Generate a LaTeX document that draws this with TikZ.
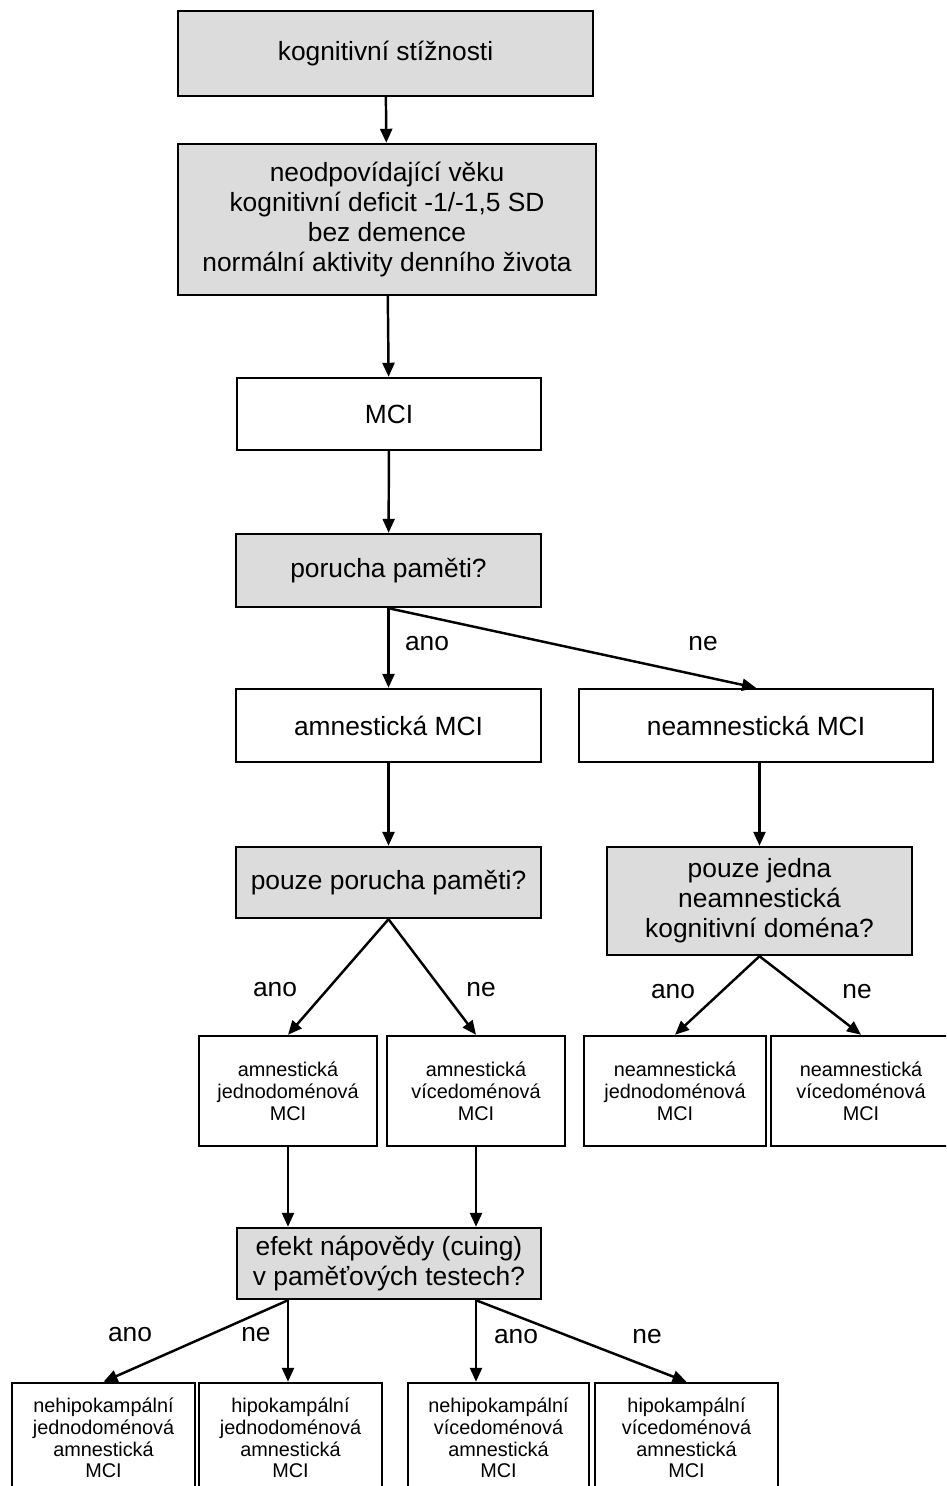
\documentclass[tikz,border=0pt]{standalone}
\usepackage{fontspec}
\setmainfont{Liberation Sans}
\usetikzlibrary{arrows.meta}

\definecolor{boxgrey}{RGB}{220,220,220}

\tikzset{
  box/.style={draw, line width=1.4pt, align=center, inner sep=0pt,
              font=\fontsize{15pt}{17pt}\selectfont},
  greybox/.style={box, fill=boxgrey},
  smallbox/.style={box, minimum height=2.2cm,
                   font=\fontsize{11.3pt}{12.4pt}\selectfont},
  answer/.style={inner sep=0pt, font=\fontsize{15pt}{17pt}\selectfont},
  arr/.style={-{Triangle[length=0.28cm,width=0.24cm]}, line width=1.4pt}
}

\begin{document}
\begin{tikzpicture}[x=0.02cm,y=-0.02cm]
                            \useasboundingbox (0,0) rectangle (946,1486);
                            \clip (0,0) rectangle (946,1486);

                            % main column
                            \node[greybox,minimum width=8.3cm,minimum height=1.7cm]   (k)     at (385.5,53.5) {kognitivní stížnosti};
                            \node[greybox,minimum width=8.36cm,minimum height=3.02cm] (def)   at (387,219.5)  {neodpovídající věku\\kognitivní deficit -1/-1,5 SD\\bez demence\\normální aktivity denního života};
                            \node[box,minimum width=6.08cm,minimum height=1.44cm]     (mci)   at (389,414)    {MCI};
                            \node[greybox,minimum width=6.1cm,minimum height=1.46cm]  (pam)   at (388.5,570.5){porucha paměti?};
                            \node[box,minimum width=6.1cm,minimum height=1.46cm]      (amci)  at (388.5,725.5){amnestická MCI};
                            \node[box,minimum width=7.08cm,minimum height=1.46cm]     (namci) at (756,725.5)  {neamnestická MCI};
                            \node[greybox,minimum width=6.1cm,minimum height=1.42cm]  (ppam)  at (388.5,882.5){pouze porucha paměti?};
                            \node[greybox,minimum width=6.1cm,minimum height=2.16cm]  (jedna) at (759.5,901)  {pouze jedna\\neamnestická\\kognitivní doména?};

                            % subtypes
                            \node[smallbox,minimum width=3.56cm] (aj) at (288,1091) {amnestická\\jednodoménová\\MCI};
                            \node[smallbox,minimum width=3.56cm] (av) at (476,1091) {amnestická\\vícedoménová\\MCI};
                            \node[smallbox,minimum width=3.64cm] (nj) at (675,1091) {neamnestická\\jednodoménová\\MCI};
                            \node[smallbox,minimum width=3.6cm]  (nv) at (861,1091) {neamnestická\\vícedoménová\\MCI};

                            \node[greybox,minimum width=6.08cm,minimum height=1.42cm] (cue) at (389,1263.5) {efekt nápovědy (cuing)\\v paměťových testech?};

                            \node[smallbox,minimum width=3.66cm] (hA) at (103.5,1438) {nehipokampální\\jednodoménová\\amnestická\\MCI};
                            \node[smallbox,minimum width=3.66cm] (hB) at (290.5,1438) {hipokampální\\jednodoménová\\amnestická\\MCI};
                            \node[smallbox,minimum width=3.62cm] (hC) at (498.5,1438) {nehipokampální\\vícedoménová\\amnestická\\MCI};
                            \node[smallbox,minimum width=3.66cm] (hD) at (686.5,1438) {hipokampální\\vícedoménová\\amnestická\\MCI};

                            % answers
                            \node[answer] (a1) at (427,644)  {ano};
                            \node[answer] (n1) at (703,644)  {ne};
                            \node[answer] (a2) at (275,990)  {ano};
                            \node[answer] (n2) at (481,990)  {ne};
                            \node[answer] (a3) at (673,992)  {ano};
                            \node[answer] (n3) at (857,992)  {ne};
                            \node[answer] (a4) at (130,1335) {ano};
                            \node[answer] (n4) at (256,1335) {ne};
                            \node[answer] (a5) at (516,1337) {ano};
                            \node[answer] (n5) at (647,1337) {ne};

                            \draw[arr] (k) -- (def);
                            \draw[arr] (def) -- (mci);
                            \draw[arr] (mci) -- (pam);
                            \draw[arr] (pam.south) -- (amci.north);
                            \draw[arr] (pam.south) -- (namci.north);
                            \draw[arr] (amci) -- (ppam);
                            \draw[arr] (namci.south -| jedna.north) -- (jedna.north);
                            \draw[arr] (ppam.south) -- (aj.north);
                            \draw[arr] (ppam.south) -- (av.north);
                            \draw[arr] (jedna.south) -- (nj.north);
                            \draw[arr] (jedna.south) -- (nv.north);
                            \draw[arr] (aj.south) -- (aj.south |- cue.north);
                            \draw[arr] (av.south) -- (av.south |- cue.north);
                            \draw[arr] (aj.south |- cue.south) -- (hA.north);
                            \draw[arr] (aj.south |- cue.south) -- (aj.south |- hB.north);
                            \draw[arr] (av.south |- cue.south) -- (av.south |- hC.north);
                            \draw[arr] (av.south |- cue.south) -- (hD.north);
\end{tikzpicture}
\end{document}
